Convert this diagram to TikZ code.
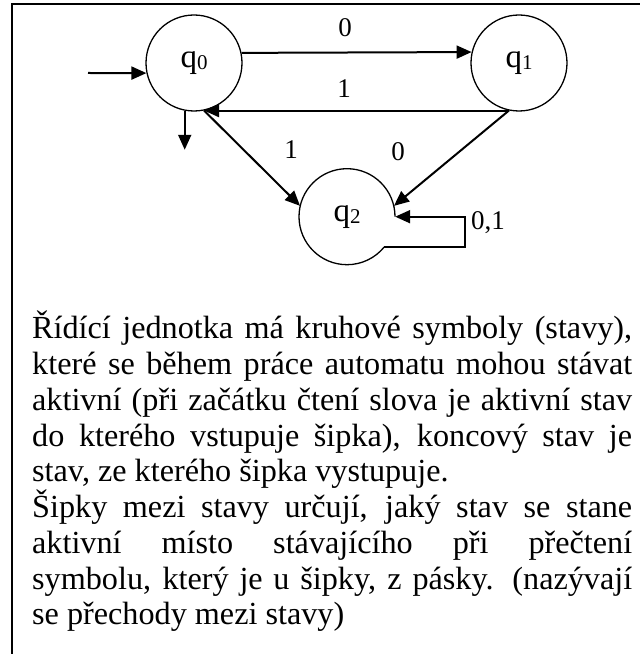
\documentclass[tikz,border=0pt]{standalone}
\usepackage{fontspec}
\setmainfont{Liberation Serif}
\usetikzlibrary{arrows.meta}
\newcommand\qsub[1]{\raisebox{-2.5pt}{\fontsize{21}{21}\selectfont #1}}
\begin{document}
\begin{tikzpicture}[x=1pt,y=1pt,
  state/.style={circle, draw, line width=1.3pt, minimum size=96pt, inner sep=0pt, font=\fontsize{33}{33}\selectfont},
  openstate/.style={circle, minimum size=96pt, inner sep=0pt, font=\fontsize{33}{33}\selectfont},
  edge/.style={line width=2pt, -{Triangle[length=15pt,width=13pt]}},
  lbl/.style={font=\fontsize{27}{27}\selectfont, inner sep=0pt},
  frameline/.style={line width=2pt}
]
\fill[white] (0,0) rectangle (640,654);
\useasboundingbox (0,0) rectangle (640,654);
\draw[frameline] (640,649.7) -- (11.5,649.7) -- (11.5,0);

\node[state] (q0) at (194,591) {q\qsub{0}};
\node[state] (q1) at (519,591) {q\qsub{1}};
\node[openstate] (q2) at (347,437.3) {q\qsub{2}};
\draw[line width=1.3pt] ([shift={(0:48)}]q2.center) arc[start angle=0, end angle=320.7, radius=48];

\coordinate (init) at (88,581);
\coordinate (fin) at ([yshift=-39pt]q0.-101);
\coordinate (loopc) at (464.5,437.3);

\draw[edge] (init) -- (q0.192);
\draw[edge] (q0.12.9) -- (q1.167.1);
\draw[edge] (q1.-102) -- (q0.-78);
\draw[edge] (q0.-101) -- (fin);
\draw[edge] (q0.-78) -- (q2.167);
\draw[edge] (q1.-102) -- (q2.13);
\draw[edge] (q2.-39.3) -| (loopc) -- (q2.east);

\node[lbl] (l01) at (345,626) {0};
\node[lbl] (l10) at (344,565) {1};
\node[lbl] (l02) at (291,504) {1};
\node[lbl] (l12) at (398,502) {0};
\node[lbl, anchor=west] (l22) at (471,431) {0,1};

\node[anchor=base west, text width=600pt, align=justify, inner sep=0pt,
      font=\fontsize{32.2}{35.75}\selectfont] (txt) at (32,315)
{\tolerance=10000\hbadness=10000
Řídící jednotka má kruhové symboly (stavy),\linebreak
které se během práce automatu mohou stávat\linebreak
aktivní (při začátku čtení slova je aktivní stav\linebreak
do kterého vstupuje šipka), koncový stav je\linebreak
stav, ze kterého šipka vystupuje.\par
Šipky mezi stavy určují, jaký stav se stane\linebreak
aktivní místo stávajícího při přečtení\linebreak
symbolu, který je u šipky, z pásky. (nazývají\linebreak
se přechody mezi stavy)};
\end{tikzpicture}
\end{document}
